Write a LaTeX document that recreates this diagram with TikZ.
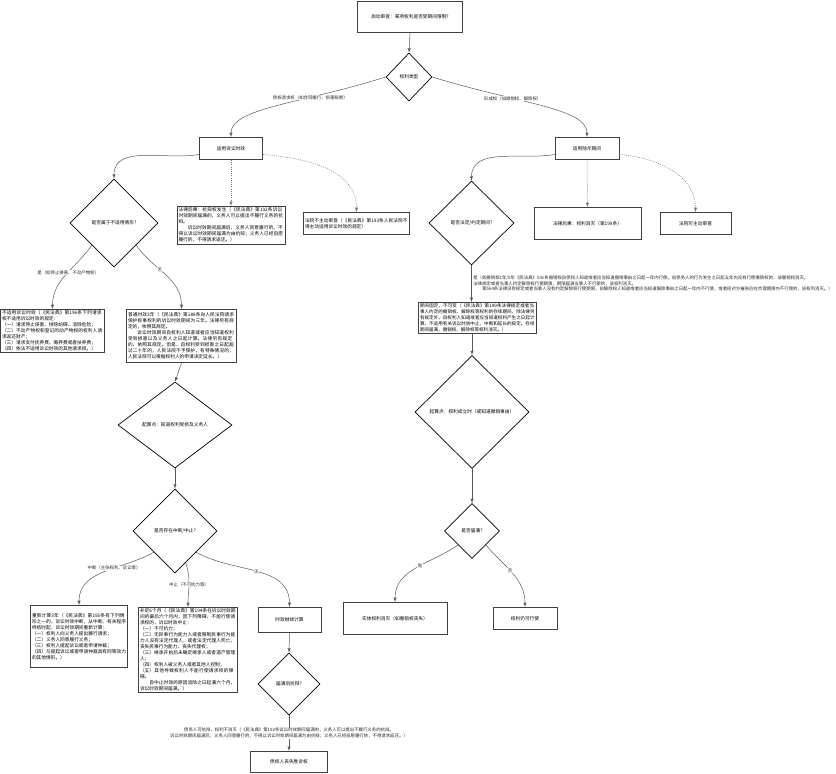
\documentclass[tikz,border=0pt]{standalone}
\usepackage{fontspec}
\setmainfont{Noto Sans CJK SC}
\XeTeXlinebreaklocale "zh"
\XeTeXlinebreakskip = 0pt plus 1pt
\usetikzlibrary{shapes,arrows}
\usetikzlibrary{calc,positioning}

\begin{document}
\begin{tikzpicture}[x=1pt,y=-1pt,>=latex,
	box/.style={draw=black!75,line width=0.9pt,fill=white,inner sep=1.5pt,anchor=north,font=\fontsize{4.7}{6}\selectfont},
	decision/.style={diamond,draw=black,line width=0.7pt,inner sep=0pt,align=center,font=\fontsize{4.7}{6}\selectfont},
	edge/.style={->,draw=black!65,line width=0.5pt},
	dedge/.style={edge,draw=black!55,dash pattern=on 1pt off 1.2pt},
	lbl/.style={fill=white,inner sep=0.5pt,text=black!85,font=\fontsize{4.4}{5.6}\selectfont}]
	\useasboundingbox (0,0) rectangle (836,774);

	% top
	\node[box,minimum width=105pt,minimum height=31pt] (audit) at (410,1) {启动审查：某项权利是否受期间限制?};
	\node[decision,minimum width=46pt,minimum height=48pt] (kind) at (409,77) {权利类型};
	\node[box,minimum width=63pt,minimum height=22pt] (limit) at (231,137) {适用诉讼时效};
	\node[box,minimum width=64pt,minimum height=22pt] (excl) at (587,137) {适用除斥期间};

	% left branch
	\node[decision,minimum width=88pt,minimum height=88pt] (notapply) at (114,223) {是否属于不适用情形?};
	\node[box,align=left,text width=105pt] (plea) at (231,206) {法律后果：抗辩权发生（《民法典》第192条诉讼时效期间届满的，义务人可以提出不履行义务的抗辩。\\\hspace*{9.4pt}诉讼时效期间届满后，义务人同意履行的，不得以诉讼时效期间届满为由抗辩；义务人已经自愿履行的，不得请求返还。）};
	\node[box,align=left,text width=103pt,minimum height=22pt] (nocourt) at (356.5,212) {法院不主动审查（《民法典》第193条人民法院不得主动适用诉讼时效的规定）};
	\node[box,align=left,text width=101pt] (exempt) at (52.5,309) {不适用诉讼时效（《民法典》第196条下列请求权不适用诉讼时效的规定：\\（一）请求停止侵害、排除妨碍、消除危险；\\（二）不动产物权和登记的动产物权的权利人请求返还财产；\\（三）请求支付抚养费、赡养费或者扶养费；\\（四）依法不适用诉讼时效的其他请求权。）};
	\node[box,align=left,text width=107pt,minimum height=53pt] (normal) at (181.5,309) {普通时效3年（《民法典》第188条向人民法院请求保护民事权利的诉讼时效期间为三年。法律另有规定的，依照其规定。\\\hspace*{9.4pt}诉讼时效期间自权利人知道或者应当知道权利受到损害以及义务人之日起计算。法律另有规定的，依照其规定。但是，自权利受到损害之日起超过二十年的，人民法院不予保护，有特殊情况的，人民法院可以根据权利人的申请决定延长。）};
	\node[decision,minimum width=114pt,minimum height=86pt] (start) at (175,425) {起算点：知道权利受损及义务人};
	\node[decision,minimum width=84pt,minimum height=84pt] (pause) at (175,531) {是否存在中断/中止?};
	\node[box,align=left,text width=94pt,minimum height=62pt] (restart) at (79,605) {重新计算3年（《民法典》第195条有下列情形之一的，诉讼时效中断，从中断、有关程序终结时起，诉讼时效期间重新计算：\\（一）权利人向义务人提出履行请求；\\（二）义务人同意履行义务；\\（三）权利人提起诉讼或者申请仲裁；\\（四）与提起诉讼或者申请仲裁具有同等效力的其他情形。）};
	\node[box,align=left,text width=96pt,minimum height=85pt] (suspend) at (188,607) {补足6个月（《民法典》第194条在诉讼时效期间的最后六个月内，因下列障碍，不能行使请求权的，诉讼时效中止：\\（一）不可抗力；\\（二）无民事行为能力人或者限制民事行为能力人没有法定代理人，或者法定代理人死亡、丧失民事行为能力、丧失代理权；\\（三）继承开始后未确定继承人或者遗产管理人；\\（四）权利人被义务人或者其他人控制；\\（五）其他导致权利人不能行使请求权的障碍。\\\hspace*{9.4pt}自中止时效的原因消除之日起满六个月，诉讼时效期间届满。）};
	\node[box,minimum width=63pt,minimum height=25pt] (goon) at (289.5,607) {时效继续计算};
	\node[decision,minimum width=62pt,minimum height=62pt] (due) at (289,684) {届满后抗辩?};
	\node[box,minimum width=77pt,minimum height=21pt] (lose) at (289,751) {债权人丧失胜诉权};

	% right branch
	\node[decision,minimum width=85pt,minimum height=84pt] (fixed) at (471.5,223) {是否法定/约定期间?};
	\node[box,minimum width=107pt,minimum height=32pt] (extinct) at (587.5,207) {法律后果：权利消灭（第199条）};
	\node[box,minimum width=71pt,minimum height=22pt] (court) at (695.5,212) {法院可主动审查};
	\node[box,align=left,text width=115pt,font=\fontsize{4.55}{6}\selectfont] (fixterm) at (477.5,302) {期间固定，不可变（《民法典》第199条法律规定或者当事人约定的撤销权、解除权等权利的存续期间，除法律另有规定外，自权利人知道或者应当知道权利产生之日起计算，不适用有关诉讼时效中止、中断和延长的规定。存续期间届满，撤销权、解除权等权利消灭。）};
	\node[decision,minimum width=114pt,minimum height=113pt] (rstart) at (472,412) {起算点：权利成立时（或知道撤销事由）};
	\node[decision,minimum width=55pt,minimum height=55pt] (rdue) at (472,531) {是否届满?};
	\node[box,minimum width=104pt,minimum height=32pt] (gone) at (395,602) {实体权利消灭（如撤销权丧失）};
	\node[box,minimum width=64pt,minimum height=22pt] (still) at (525,607) {权利仍可行使};

	% connectors
	\draw[edge] (audit.south) -- (kind.north);
	\draw[edge] (kind.west) .. controls (300,104) and (231,108) .. node[lbl,pos=0.32] {债权请求权（如合同履行、损害赔偿）} (limit.north);
	\draw[edge] (kind.east) .. controls (520,104) and (587,108) .. node[lbl,pos=0.34] {形成权（如撤销权、解除权）} (excl.north);

	\draw[edge] ([yshift=-6pt]limit.west) to[out=190,in=90] (notapply.north);
	\draw[dedge] (limit.south) -- (plea.north);
	\draw[dedge] ([yshift=-6pt]limit.east) to[out=-5,in=90] (nocourt.north);
	\draw[edge] (notapply.south west) to[out=235,in=90] node[lbl,pos=0.45] {是（如停止侵害、不动产物权）} (exempt.north);
	\draw[edge] (notapply.south east) to[out=-55,in=90] node[lbl,pos=0.4] {否} (normal.north);
	\draw[edge] (normal.south) -- (start.north);
	\draw[edge] (start.south) -- (pause.north);
	\draw[edge] (pause.south west) to[out=210,in=90] node[lbl,pos=0.4] {中断（主张权利、诉讼等）} (restart.north);
	\draw[edge] ($(pause.south)!0.25!(pause.east)$) to[out=-70,in=90] node[lbl,pos=0.5] {中止（不可抗力等）} (suspend.north);
	\draw[edge] (pause.south east) to[out=-30,in=90] node[lbl,pos=0.5] {无} (goon.north);
	\draw[edge] (goon.south) -- (due.north);
	\draw[edge] (due.south) -- node[lbl,align=center] {债务人可抗辩，权利不消灭（《民法典》第192条诉讼时效期间届满的，义务人可以提出不履行义务的抗辩。\\诉讼时效期间届满后，义务人同意履行的，不得以诉讼时效期间届满为由抗辩；义务人已经自愿履行的，不得请求返还。）} (lose.north);

	\draw[edge] ([yshift=-6pt]excl.west) to[out=190,in=90] (fixed.north);
	\draw[dedge] (excl.south) -- (extinct.north);
	\draw[dedge] ([yshift=-6pt]excl.east) to[out=-5,in=90] (court.north);
	\draw[edge] (fixed.south) -- node[lbl,anchor=west,align=left,xshift=1pt] {是（如撤销权1年/5年《民法典》541条撤销权自债权人知道或者应当知道撤销事由之日起一年内行使。自债务人的行为发生之日起五年内没有行使撤销权的，该撤销权消灭。\\法律规定或者当事人约定解除权行使期限，期限届满当事人不行使的，该权利消灭。\\\hspace*{9pt}第564条法律没有规定或者当事人没有约定解除权行使期限，自解除权人知道或者应当知道解除事由之日起一年内不行使，或者经对方催告后在合理期限内不行使的，该权利消灭。）} (fixed.south |- fixterm.north);
	\draw[edge] (rstart.north |- fixterm.south) -- (rstart.north);
	\draw[edge] (rstart.south) -- (rdue.north);
	\draw[edge] (rdue.south west) to[out=215,in=90] node[lbl,pos=0.45] {是} (gone.north);
	\draw[edge] (rdue.south east) to[out=-50,in=90] node[lbl,pos=0.45] {否} (still.north);
\end{tikzpicture}
\end{document}
